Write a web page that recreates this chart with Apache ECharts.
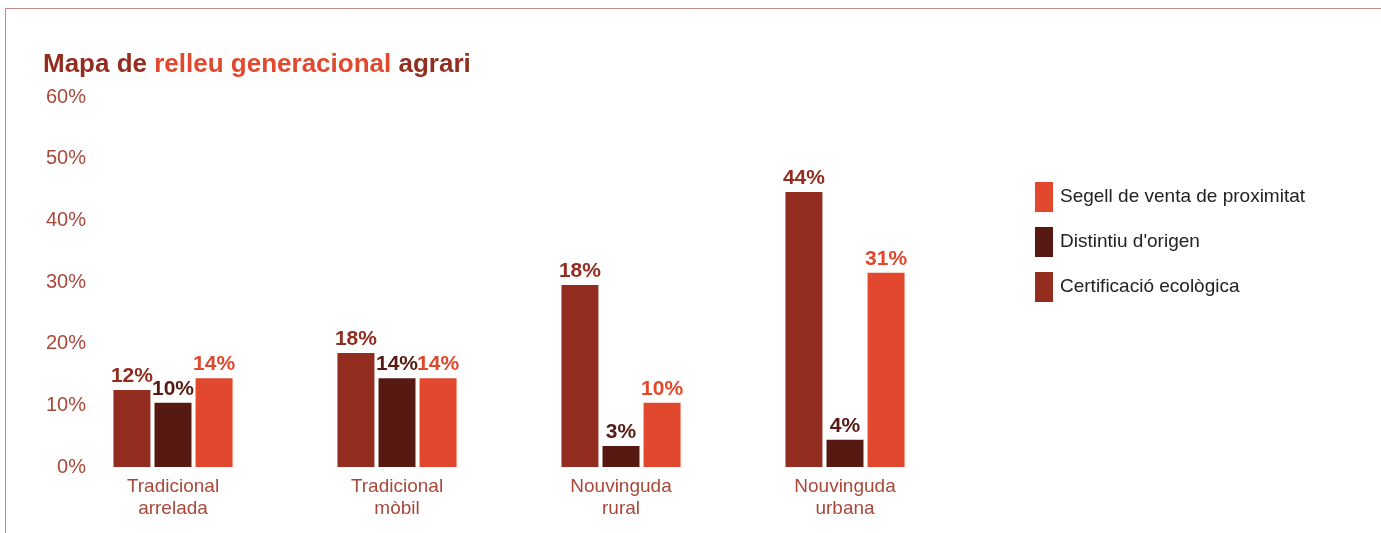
<!DOCTYPE html>
<html>
<head>
<meta charset="utf-8">
<title>Mapa de relleu generacional agrari</title>
<script src="https://cdn.jsdelivr.net/npm/echarts@6/dist/echarts.min.js"></script>
<style>
  html, body { margin: 0; padding: 0; background: #fff; }
  #main { width: 1381px; height: 533px; }
</style>
</head>
<body>
<div id="main"></div>
<script>
  // categories and tick labels
  var categories = ['Tradicional\narrelada', 'Tradicional\nmòbil', 'Nouvinguda\nrural', 'Nouvinguda\nurbana']
  var yTicks = [0, 10, 20, 30, 40, 50, 60]

  // bar heights (in %)
  var ecologica = [12.5, 18.5, 29.5, 44.6]
  var origen = [10.4, 14.4, 3.4, 4.4]
  var proximitat = [14.4, 14.4, 10.4, 31.5]

  // printed labels (they do not always match the bar height)
  var ecologicaLabels = [12, 18, 18, 44]
  var origenLabels = [10, 14, 3, 4]
  var proximitatLabels = [14, 14, 10, 31]

  var names = ['Certificació ecològica', "Distintiu d'origen", 'Segell de venta de proximitat']
  var colors = ['#922d1f', '#561a13', '#e2482d']

  function makeSeries(name, values, labels, color) {
    return {
      name: name,
      type: 'bar',
      barWidth: 37,
      barGap: '11%',
      itemStyle: { color: color },
      label: {
        show: true,
        position: 'top',
        distance: 3,
        color: color,
        fontSize: 21,
        fontWeight: 'bold',
        fontFamily: 'Liberation Sans, Arial, sans-serif',
        formatter: function (p) {
          return labels[p.dataIndex] + '%'
        },
      },
      data: values,
    }
  }

  var chart = echarts.init(document.getElementById('main'))
  var option = {
    animation: false,
    textStyle: { fontFamily: 'Liberation Sans, Arial, sans-serif' },
    title: {
      left: 43,
      top: 52,
      padding: 0,
      text: '{a|Mapa de }{b|relleu generacional}{a| agrari}',
      textStyle: {
        rich: {
          a: { fontSize: 26, fontWeight: 'bold', color: '#922d1f' },
          b: { fontSize: 26, fontWeight: 'bold', color: '#e2482d' },
        },
      },
    },
    graphic: [
      {
        type: 'rect',
        silent: true,
        shape: { x: 5.5, y: 8.5, width: 1500, height: 700 },
        style: { fill: 'none', stroke: '#c48c86', lineWidth: 1 },
      },
    ],
    legend: {
      orient: 'vertical',
      left: 1035,
      top: 182,
      padding: 0,
      itemWidth: 18,
      itemHeight: 30,
      itemGap: 15,
      icon: 'rect',
      data: [names[2], names[1], names[0]],
      textStyle: { fontSize: 19, color: '#222', padding: [0, 0, 0, 2] },
    },
    grid: {
      left: 61,
      right: 424,
      top: 97,
      bottom: 66,
    },
    xAxis: {
      type: 'category',
      data: categories,
      axisLine: { show: false },
      axisTick: { show: false },
      axisLabel: {
        margin: 9,
        fontSize: 19,
        lineHeight: 22,
        color: '#a9483a',
      },
    },
    yAxis: {
      type: 'value',
      min: yTicks[0],
      max: yTicks[yTicks.length - 1],
      interval: 10,
      offset: -33,
      splitLine: { show: false },
      axisLine: { show: false },
      axisTick: { show: false },
      axisLabel: {
        margin: 8,
        fontSize: 20,
        color: '#a9483a',
        padding: [5, 0, 0, 0],
        formatter: '{value}%',
      },
    },
    series: [
      makeSeries(names[0], ecologica, ecologicaLabels, colors[0]),
      makeSeries(names[1], origen, origenLabels, colors[1]),
      makeSeries(names[2], proximitat, proximitatLabels, colors[2]),
    ],
  }
  chart.setOption(option)
</script>
</body>
</html>
